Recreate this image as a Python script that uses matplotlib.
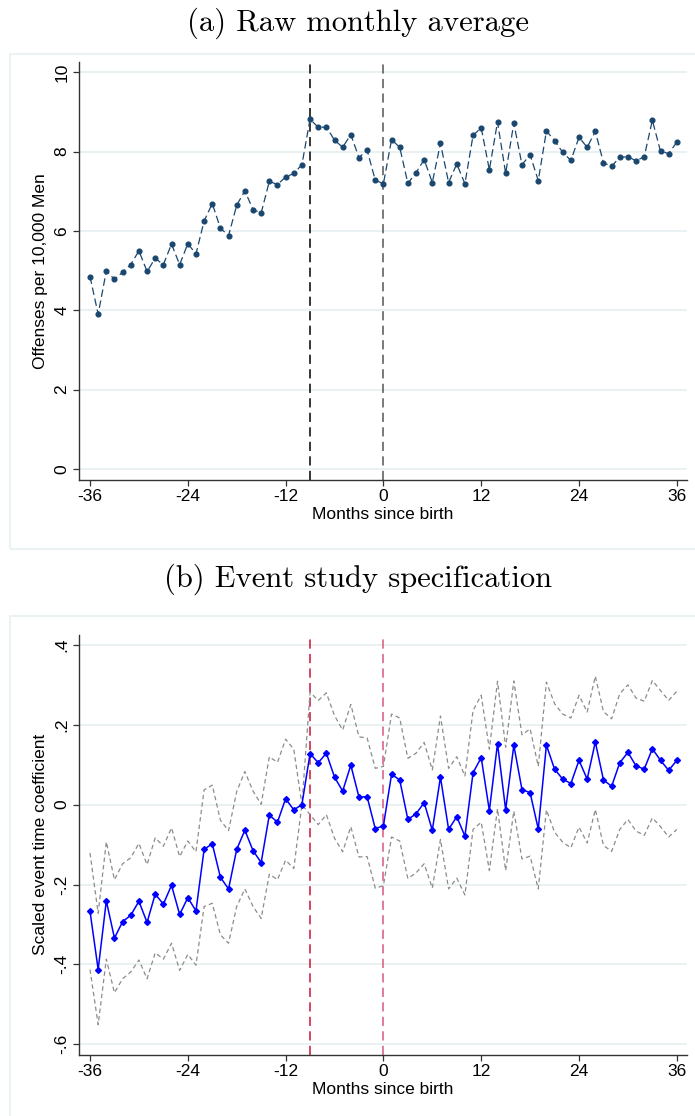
import matplotlib
matplotlib.use("Agg")
import matplotlib.pyplot as plt
from matplotlib.patches import Rectangle
import numpy as np

# ---------------- data ----------------
months = list(range(-36, 37))

raw_avg = [4.85, 3.90, 4.99, 4.78, 4.96, 5.15, 5.50, 4.98, 5.31, 5.15,
           5.67, 5.15, 5.68, 5.42, 6.25, 6.69, 6.07, 5.88, 6.65, 7.01,
           6.54, 6.45, 7.25, 7.17, 7.36, 7.45, 7.67, 8.82, 8.61, 8.62,
           8.29, 8.11, 8.43, 7.85, 8.04, 7.28, 7.19, 8.30, 8.11, 7.20,
           7.47, 7.80, 7.22, 8.21, 7.22, 7.69, 7.19, 8.41, 8.60, 7.54,
           8.75, 7.45, 8.72, 7.67, 7.92, 7.27, 8.52, 8.28, 7.98, 7.78,
           8.36, 8.11, 8.51, 7.72, 7.63, 7.86, 7.87, 7.77, 7.87, 8.79,
           8.01, 7.95, 8.24]

coef = [-0.267, -0.413, -0.241, -0.334, -0.293, -0.277, -0.242, -0.295, -0.224, -0.249,
        -0.202, -0.275, -0.233, -0.266, -0.112, -0.098, -0.182, -0.211, -0.112, -0.064,
        -0.115, -0.145, -0.026, -0.044, 0.015, -0.013, 0.000, 0.128, 0.105, 0.129,
        0.069, 0.034, 0.099, 0.019, 0.020, -0.060, -0.053, 0.076, 0.062, -0.037,
        -0.023, 0.005, -0.064, 0.069, -0.062, -0.030, -0.079, 0.080, 0.118, -0.015,
        0.153, -0.013, 0.149, 0.038, 0.030, -0.061, 0.149, 0.089, 0.064, 0.053,
        0.111, 0.064, 0.157, 0.062, 0.046, 0.105, 0.131, 0.097, 0.089, 0.140,
        0.111, 0.086, 0.111]

ci_upper = [-0.121, -0.272, -0.093, -0.188, -0.148, -0.133, -0.097, -0.150, -0.083, -0.104,
            -0.058, -0.130, -0.091, -0.118, 0.037, 0.049, -0.039, -0.065, 0.033, 0.083,
            0.034, 0.001, 0.120, 0.106, 0.164, 0.139, 0.000, 0.282, 0.261, 0.280,
            0.223, 0.187, 0.251, 0.170, 0.167, 0.091, 0.096, 0.227, 0.217, 0.116,
            0.129, 0.156, 0.087, 0.222, 0.091, 0.120, 0.072, 0.236, 0.274, 0.139,
            0.309, 0.144, 0.310, 0.175, 0.190, 0.096, 0.307, 0.253, 0.227, 0.217,
            0.274, 0.232, 0.322, 0.233, 0.215, 0.278, 0.300, 0.267, 0.259, 0.311,
            0.286, 0.261, 0.284]

ci_lower = [-0.413, -0.551, -0.387, -0.471, -0.436, -0.419, -0.389, -0.436, -0.371, -0.387,
            -0.347, -0.415, -0.375, -0.402, -0.255, -0.247, -0.326, -0.347, -0.255, -0.211,
            -0.255, -0.285, -0.174, -0.188, -0.139, -0.160, 0.000, -0.025, -0.050, -0.025,
            -0.084, -0.118, -0.055, -0.131, -0.130, -0.209, -0.203, -0.081, -0.091, -0.185,
            -0.171, -0.148, -0.209, -0.087, -0.211, -0.184, -0.226, -0.062, -0.044, -0.165,
            -0.010, -0.165, -0.016, -0.136, -0.129, -0.211, -0.013, -0.069, -0.094, -0.108,
            -0.056, -0.096, -0.012, -0.102, -0.117, -0.062, -0.037, -0.066, -0.077, -0.033,
            -0.055, -0.081, -0.062]

x_ticks = [-36, -24, -12, 0, 12, 24, 36]
x_ticklabels = ["-36", "-24", "-12", "0", "12", "24", "36"]
ya_ticks = [0, 2, 4, 6, 8, 10]
ya_ticklabels = ["0", "2", "4", "6", "8", "10"]
yb_ticks = [-0.6, -0.4, -0.2, 0.0, 0.2, 0.4]
yb_ticklabels = ["-.6", "-.4", "-.2", "0", ".2", ".4"]
event_lines = [-9, 0]

title_a = "(a) Raw monthly average"
title_b = "(b) Event study specification"
ylabel_a = "Offenses per 10,000 Men"
ylabel_b = "Scaled event time coefficient"
xlabel = "Months since birth"

# ---------------- style ----------------
plt.rcParams['font.family'] = ['Liberation Sans', 'DejaVu Sans']
W, H = 695, 1116
fig = plt.figure(figsize=(W / 100, H / 100), dpi=100)

GRID = '#E8F0F2'
BOX = '#EAF2F3'
AXC = '#333333'


def fx(px):
    return px / W


def fy(py):
    return 1 - py / H


# panel boxes
fig.patches.append(Rectangle((fx(10), fy(549)), fx(700) - fx(10), fy(54) - fy(549),
                             transform=fig.transFigure, fill=False,
                             edgecolor=BOX, lw=1.5, zorder=0))
fig.patches.append(Rectangle((fx(10), fy(1125)), fx(700) - fx(10), fy(616) - fy(1125),
                             transform=fig.transFigure, fill=False,
                             edgecolor=BOX, lw=1.5, zorder=0))

fig.text(fx(358), fy(23), title_a, fontfamily='cmr10', fontsize=22,
         ha='center', va='center')
fig.text(fx(358), fy(579), title_b, fontfamily='cmr10', fontsize=22,
         ha='center', va='center')


def style_axes(ax, yticks, yticklabels, ylabel):
    for s in ['top', 'right']:
        ax.spines[s].set_visible(False)
    for s in ['left', 'bottom']:
        ax.spines[s].set_color(AXC)
        ax.spines[s].set_linewidth(1.0)
    ax.set_xticks(x_ticks)
    ax.set_xticklabels(x_ticklabels, fontsize=12.5)
    ax.set_yticks(yticks)
    ax.set_yticklabels(yticklabels, fontsize=12.5, rotation=90, va='center')
    ax.tick_params(axis='both', direction='out', length=4, width=0.9, color=AXC, pad=2.5)
    ax.set_xlabel(xlabel, fontsize=12.5, labelpad=2)
    ax.set_ylabel(ylabel, fontsize=12.5, labelpad=5)
    ax.yaxis.grid(True, color=GRID, lw=1.3)
    ax.xaxis.grid(False)
    ax.set_axisbelow(True)


# ---------------- panel (a) ----------------
ax1 = fig.add_axes([fx(78.6), fy(480), fx(687) - fx(78.6), fy(62) - fy(480)])
ax1.set_xlim(-37.4, 37.25)
ax1.set_ylim(-0.28, 10.26)
ax1.axvline(event_lines[0], color='black', lw=1.1, ls=(0, (6, 3.5)), zorder=1)
ax1.axvline(event_lines[1], color='#555555', lw=1.1, ls=(0, (6, 3.5)), zorder=1)
ax1.plot(months, raw_avg, color='#1a476f', lw=0.9, ls=(0, (6, 3)),
         marker='o', ms=3.4, mfc='#1a476f', mec='#1a476f', zorder=3)
style_axes(ax1, ya_ticks, ya_ticklabels, ylabel_a)

# ---------------- panel (b) ----------------
ax2 = fig.add_axes([fx(78.6), fy(1055), fx(687) - fx(78.6), fy(634.6) - fy(1055)])
ax2.set_xlim(-37.4, 37.25)
ax2.set_ylim(-0.627, 0.426)
ax2.axvline(event_lines[0], color='#cc1438', lw=1.1, ls=(0, (6, 3.5)), zorder=1)
ax2.axvline(event_lines[1], color='#d9577a', lw=1.1, ls=(0, (6, 3.5)), zorder=1)
ax2.plot(months, ci_upper, color='#8c8c8c', lw=0.9, ls=(0, (3.5, 2.5)), zorder=2)
ax2.plot(months, ci_lower, color='#8c8c8c', lw=0.9, ls=(0, (3.5, 2.5)), zorder=2)
ax2.plot(months, coef, color='#0000ff', lw=1.1, marker='D', ms=3.0,
         mfc='#0000ff', mec='#0000ff', zorder=3)
style_axes(ax2, yb_ticks, yb_ticklabels, ylabel_b)

fig.savefig('out.png', dpi=100)
